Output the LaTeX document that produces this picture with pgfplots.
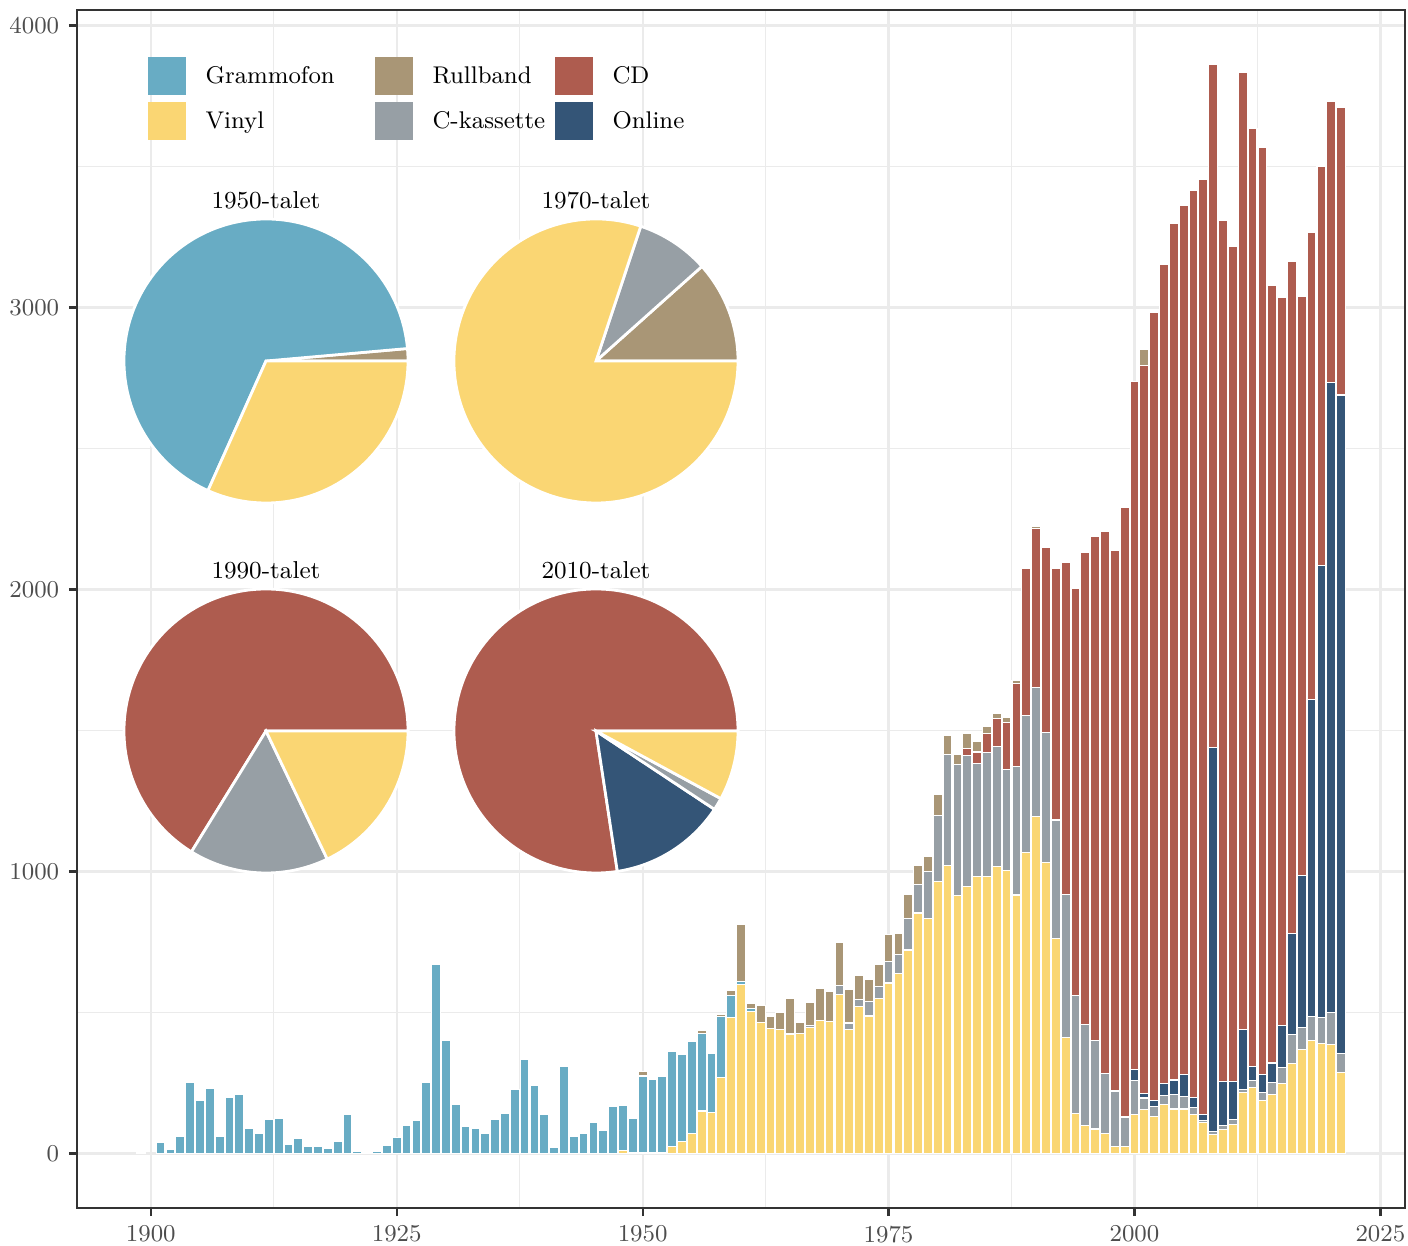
\documentclass[border=0pt]{standalone}
\usepackage{fontspec}
\usepackage{pgfplots}
\usepackage{pgfplotstable}
\pgfplotsset{compat=1.18}
\definecolor{gram}{HTML}{68ACC4}
\definecolor{vinyl}{HTML}{FAD673}
\definecolor{rull}{HTML}{A99676}
\definecolor{kass}{HTML}{979FA5}
\definecolor{cd}{HTML}{AE5C4F}
\definecolor{online}{HTML}{345577}
\definecolor{gridgray}{HTML}{EBEBEB}
\definecolor{axisgray}{HTML}{333333}
\definecolor{labgray}{HTML}{4D4D4D}
\pgfplotstableread{
year V G K O C R
1899 0 2 0 0 0 0
1900 0 0 0 0 0 0
1901 0 38 0 0 0 0
1902 0 15 0 0 0 0
1903 0 61 0 0 0 0
1904 0 252 0 0 0 0
1905 0 190 0 0 0 0
1906 0 230 0 0 0 0
1907 0 61 0 0 0 0
1908 0 199 0 0 0 0
1909 0 209 0 0 0 0
1910 0 90 0 0 0 0
1911 0 70 0 0 0 0
1912 0 122 0 0 0 0
1913 0 124 0 0 0 0
1914 0 32 0 0 0 0
1915 0 53 0 0 0 0
1916 0 25 0 0 0 0
1917 0 25 0 0 0 0
1918 0 18 0 0 0 0
1919 0 42 0 0 0 0
1920 0 138 0 0 0 0
1921 0 8 0 0 0 0
1922 0 3 0 0 0 0
1923 0 6 0 0 0 0
1924 0 28 0 0 0 0
1925 0 58 0 0 0 0
1926 0 99 0 0 0 0
1927 0 118 0 0 0 0
1928 0 251 0 0 0 0
1929 0 669 0 0 0 0
1930 0 402 0 0 0 0
1931 0 175 0 0 0 0
1932 0 97 0 0 0 0
1933 0 89 0 0 0 0
1934 0 71 0 0 0 0
1935 0 120 0 0 0 0
1936 0 142 0 0 0 0
1937 0 227 0 0 0 0
1938 0 333 0 0 0 0
1939 0 241 0 0 0 0
1940 0 138 0 0 0 0
1941 0 22 0 0 0 0
1942 0 308 0 0 0 0
1943 0 60 0 0 0 0
1944 0 71 0 0 0 0
1945 0 112 0 0 0 0
1946 0 83 0 0 0 0
1947 0 166 0 0 0 0
1948 10 160 0 0 0 0
1949 3 120 0 0 0 0
1950 5 270 0 0 0 15
1951 5 257 0 0 0 0
1952 5 270 0 0 0 0
1953 24 338 0 0 0 0
1954 42 308 0 0 0 0
1955 70 328 0 0 0 0
1956 151 276 0 0 0 11
1957 146 209 0 0 0 0
1958 269 217 0 0 0 9
1959 481 81 0 0 0 17
1960 598 13 0 0 0 200
1961 505 8 0 0 0 18
1962 466 0 0 0 0 58
1963 445 0 0 0 0 41
1964 441 0 0 0 0 59
1965 424 0 0 0 0 126
1966 425 0 0 0 0 41
1967 448 0 6 0 0 82
1968 473 0 0 0 0 111
1969 468 0 0 0 0 107
1970 563 0 34 0 0 150
1971 441 0 22 0 0 120
1972 520 0 25 0 0 86
1973 488 0 50 0 0 78
1974 549 0 42 0 0 79
1975 605 0 77 0 0 94
1976 637 0 70 0 0 74
1977 722 0 112 0 0 84
1978 853 0 102 0 0 66
1979 832 0 169 0 0 51
1980 966 0 234 0 0 74
1981 1023 0 393 0 0 67
1982 914 0 467 0 0 36
1983 948 0 464 0 24 54
1984 982 0 400 0 42 37
1985 982 0 439 0 68 26
1986 1018 0 426 0 98 17
1987 1003 0 360 0 166 19
1988 917 0 456 0 293 13
1989 1068 0 485 0 521 5
1990 1195 0 458 0 562 7
1991 1032 0 462 0 656 0
1992 763 0 420 0 891 0
1993 412 0 508 0 1176 0
1994 142 0 417 0 1446 0
1995 98 0 359 0 1674 0
1996 87 0 315 0 1786 0
1997 70 0 213 0 1923 0
1998 25 0 197 0 1917 0
1999 25 0 102 6 2157 0
2000 140 0 118 39 2442 0
2001 155 0 42 16 2582 55
2002 133 0 35 19 2797 0
2003 173 0 34 41 2904 0
2004 158 0 51 52 3036 0
2005 158 0 44 79 3080 0
2006 139 0 24 36 3215 0
2007 110 0 6 22 3315 0
2008 67 0 11 1362 2422 0
2009 86 0 13 158 3053 0
2010 104 0 16 134 2961 0
2011 215 0 12 214 3391 0
2012 235 0 23 50 3327 0
2013 188 0 29 62 3290 0
2014 211 0 41 69 2756 0
2015 250 0 54 151 2580 0
2016 320 0 101 360 2381 0
2017 368 0 79 538 2054 0
2018 402 0 83 1125 1655 0
2019 391 0 92 1602 1416 0
2020 388 0 111 2236 994 0
2021 287 0 67 2336 1021 0
}\sales
\newcommand{\slice}[3]{\fill[#3, draw=white, line width=1pt] (axis cs:0,0) -- (axis cs:{cos(#1)},{sin(#1)}) arc[start angle=#1, end angle=#2, radius=51.12pt] -- cycle;}
\tikzset{pietitle/.style={font=\fontsize{8.8}{10}\selectfont, text=black, anchor=center}}
\pgfplotsset{pieaxis/.style={anchor=center, hide axis, x=51.12pt, y=51.12pt, xmin=-1, xmax=1, ymin=-1, ymax=1, clip=false}}
\begin{document}
\begin{tikzpicture}
\path[use as bounding box] (0pt,0pt) rectangle (506.88pt,448.2pt);
\begin{axis}[
  at={(27.72pt,13.32pt)}, anchor=south west,
  width=478.08pt, height=431.28pt, scale only axis,
  xmin=1892.5, xmax=2027.5, ymin=-193, ymax=4055,
  ybar stacked, bar width=0.9,
  xtick={1900,1925,1950,1975,2000,2025},
  minor xtick={1912.5,1937.5,1962.5,1987.5,2012.5},
  ytick={0,1000,2000,3000,4000},
  minor ytick={500,1500,2500,3500},
  grid=both,
  major grid style={draw=gridgray, line width=0.8pt},
  minor grid style={draw=gridgray, line width=0.45pt},
  tick align=outside, tick pos=left,
  major tick length=2.9pt, minor tick length=0pt,
  major tick style={draw=axisgray, line width=0.8pt},
  axis line style={draw=axisgray, line width=0.8pt},
  ticklabel style={font=\fontsize{8.7}{10}\selectfont, text=labgray},
  /pgf/number format/1000 sep={},
  /pgf/number format/assume math mode=true,
  every axis plot/.append style={draw=white, line width=0.4pt},
]
\addplot[fill=vinyl] table[x=year, y=V]{\sales};
\addplot[fill=gram] table[x=year, y=G]{\sales};
\addplot[fill=kass] table[x=year, y=K]{\sales};
\addplot[fill=online] table[x=year, y=O]{\sales};
\addplot[fill=cd] table[x=year, y=C]{\sales};
\addplot[fill=rull] table[x=year, y=R]{\sales};
\end{axis}
% pies
\begin{axis}[pieaxis, at={(95.76pt,318.24pt)}]
\slice{0}{5.04}{rull}
\slice{5.04}{245.88}{gram}
\slice{245.88}{360}{vinyl}
\node[pietitle] at (axis cs:0,1.135) {1950-talet};
\end{axis}
\begin{axis}[pieaxis, at={(214.56pt,318.24pt)}]
\slice{0}{41.76}{rull}
\slice{41.76}{71.64}{kass}
\slice{71.64}{360}{vinyl}
\node[pietitle] at (axis cs:0,1.135) {1970-talet};
\end{axis}
\begin{axis}[pieaxis, at={(95.76pt,185.04pt)}]
\slice{0}{238.32}{cd}
\slice{238.32}{295.56}{kass}
\slice{295.56}{360}{vinyl}
\node[pietitle] at (axis cs:0,1.135) {1990-talet};
\end{axis}
\begin{axis}[pieaxis, at={(214.56pt,185.04pt)}]
\slice{0}{278.64}{cd}
\slice{278.64}{326.52}{online}
\slice{326.52}{331.56}{kass}
\slice{331.56}{360}{vinyl}
\node[pietitle] at (axis cs:0,1.135) {2010-talet};
\end{axis}
% legend
\begin{scope}[every node/.style={font=\fontsize{8.7}{10}\selectfont, anchor=west, text height=1.55ex, text depth=0.3ex, inner sep=0pt}]
\fill[gram]   (53.28pt,414.0pt) rectangle (66.96pt,427.68pt);
\fill[vinyl]  (53.28pt,397.8pt) rectangle (66.96pt,411.48pt);
\fill[rull]   (135.0pt,414.0pt) rectangle (148.68pt,427.68pt);
\fill[kass]   (135.0pt,397.8pt) rectangle (148.68pt,411.48pt);
\fill[cd]     (199.8pt,414.0pt) rectangle (213.48pt,427.68pt);
\fill[online] (199.8pt,397.8pt) rectangle (213.48pt,411.48pt);
\node at (73.8pt,420.84pt) {Grammofon};
\node at (73.8pt,404.64pt) {Vinyl};
\node at (155.52pt,420.84pt) {Rullband};
\node at (155.52pt,404.64pt) {C-kassette};
\node at (220.32pt,420.84pt) {CD};
\node at (220.32pt,404.64pt) {Online};
\end{scope}
\end{tikzpicture}
\end{document}
